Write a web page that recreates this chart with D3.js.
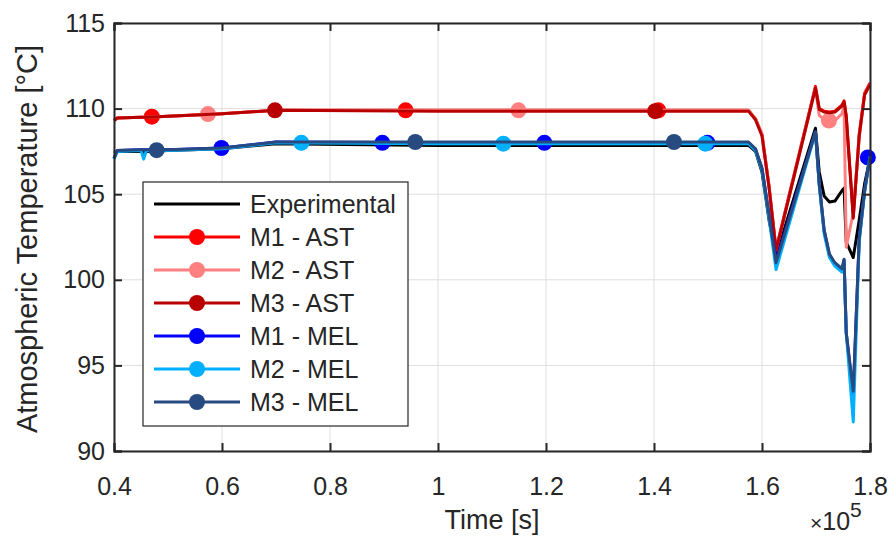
<!DOCTYPE html>
<html lang="en">

<head>
	<meta charset="UTF-8">
	<title>Atmospheric Temperature</title>

	<style>
		body { margin: 0; background: #fff; }
		text { font-family: "Liberation Sans", Arial, Helvetica, sans-serif; fill: #262626; }
	</style>

	<script src="https://d3js.org/d3.v7.min.js"></script>
</head>

<body>
	<script type="text/javascript">
		const width = 896;
		const height = 538;

		// shared time grid [s]
		const time = [40000, 40600, 45000, 45500, 46000, 50000, 60000, 70000, 100000, 130000,
			157500, 158800, 160000, 161300, 162600,
			169900, 170600, 171500, 172500, 173500, 174800, 175200, 175600, 176900, 178000, 179000, 180000];

		// temperature values [°C]
		const expValues = [107.4, 107.5, 107.5, 107.45, 107.5, 107.55, 107.65, 107.95, 107.85, 107.85,
			107.85, 107.5, 106.3, 103.5, 101.4,
			108.85, 106.3, 104.9, 104.55, 104.6, 105.2, 105.35, 102.2, 101.3, 103.5, 105.6, 107.1];
		const m1AstValues = [109.3, 109.45, 109.5, 109.5, 109.5, 109.55, 109.7, 109.9, 109.9, 109.9,
			109.9, 109.4, 108.5, 105.5, 101.8,
			111.3, 110.0, 109.85, 109.8, 109.85, 110.2, 110.45, 109.6, 103.7, 108.5, 110.9, 111.5];
		const m2AstValues = [109.3, 109.45, 109.5, 109.5, 109.5, 109.55, 109.7, 109.9, 109.9, 109.9,
			109.9, 109.4, 108.5, 105.4, 101.7,
			111.2, 109.6, 109.35, 109.25, 109.3, 109.7, 110.1, 101.9, 103.9, 108.3, 110.8, 111.4];
		const m3AstValues = [109.3, 109.45, 109.5, 109.5, 109.5, 109.55, 109.7, 109.9, 109.85, 109.85,
			109.85, 109.35, 108.4, 105.4, 101.7,
			111.2, 109.95, 109.8, 109.75, 109.8, 110.15, 110.4, 109.5, 103.6, 108.4, 110.8, 111.4];
		const m1MelValues = [107.1, 107.55, 107.6, 107.6, 107.6, 107.6, 107.7, 108.05, 108.0, 108.0,
			108.0, 107.6, 106.5, 103.8, 101.1,
			108.65, 105.6, 102.9, 101.4, 100.9, 100.55, 101.15, 96.9, 93.2, 102.4, 105.2, 107.2];
		const m2MelValues = [107.05, 107.5, 107.55, 107.05, 107.55, 107.55, 107.65, 108.0, 107.95, 107.95,
			107.95, 107.55, 106.4, 103.6, 100.6,
			108.6, 105.5, 102.7, 101.3, 100.8, 100.45, 101.05, 96.9, 91.7, 102.2, 105.1, 107.2];
		const m3MelValues = [107.1, 107.55, 107.6, 107.6, 107.6, 107.6, 107.7, 108.05, 108.05, 108.05,
			108.05, 107.65, 106.5, 103.8, 101.0,
			108.65, 105.6, 102.9, 101.5, 101.0, 100.65, 101.2, 96.9, 93.5, 102.4, 105.2, 107.2];

		// marker positions
		const m1AstMarkT = [47000, 94000, 140800];
		const m1AstMarkV = [109.53, 109.9, 109.9];
		const m2AstMarkT = [57400, 114900, 172400];
		const m2AstMarkV = [109.68, 109.9, 109.3];
		const m3AstMarkT = [69800, 140200];
		const m3AstMarkV = [109.9, 109.85];
		const m1MelMarkT = [59900, 89700, 119700, 149900, 179600];
		const m1MelMarkV = [107.7, 108.0, 108.0, 108.0, 107.15];
		const m2MelMarkT = [74700, 112100, 149500];
		const m2MelMarkV = [108.0, 107.95, 107.95];
		const m3MelMarkT = [47900, 95800, 143700];
		const m3MelMarkV = [107.57, 108.05, 108.05];

		const xTicks = [40000, 60000, 80000, 100000, 120000, 140000, 160000, 180000];
		const yTicks = [90, 95, 100, 105, 110, 115];

		const series = [
			{ name: "Experimental", values: expValues, color: "#000000", markT: [], markV: [] },
			{ name: "M1 - AST", values: m1AstValues, color: "#ff0000", markT: m1AstMarkT, markV: m1AstMarkV },
			{ name: "M2 - AST", values: m2AstValues, color: "#ff8080", markT: m2AstMarkT, markV: m2AstMarkV },
			{ name: "M3 - AST", values: m3AstValues, color: "#b80000", markT: m3AstMarkT, markV: m3AstMarkV },
			{ name: "M1 - MEL", values: m1MelValues, color: "#0000ff", markT: m1MelMarkT, markV: m1MelMarkV },
			{ name: "M2 - MEL", values: m2MelValues, color: "#00b0ff", markT: m2MelMarkT, markV: m2MelMarkV },
			{ name: "M3 - MEL", values: m3MelValues, color: "#274a80", markT: m3MelMarkT, markV: m3MelMarkV }
		];

		const plotLeft = 114, plotRight = 870, plotTop = 23, plotBottom = 451;

		const x = d3.scaleLinear().domain([40000, 180000]).range([plotLeft, plotRight]);
		const y = d3.scaleLinear().domain([90, 115]).range([plotBottom, plotTop]);

		const svg = d3.select("body").append("svg")
			.attr("width", width)
			.attr("height", height);

		// grid
		const grid = svg.append("g").attr("stroke", "#dfdfdf").attr("stroke-width", 1);
		grid.selectAll(".gx").data(xTicks).join("line")
			.attr("x1", d => x(d)).attr("x2", d => x(d))
			.attr("y1", plotTop).attr("y2", plotBottom);
		grid.selectAll(".gy").data(yTicks).join("line")
			.attr("x1", plotLeft).attr("x2", plotRight)
			.attr("y1", d => y(d)).attr("y2", d => y(d));

		// lines + markers, series by series
		const line = d3.line()
			.x((d, i) => x(time[i]))
			.y(d => y(d));

		const plot = svg.append("g");
		series.forEach(s => {
			const g = plot.append("g");
			g.append("path")
				.attr("d", line(s.values))
				.attr("fill", "none")
				.attr("stroke", s.color)
				.attr("stroke-width", 3)
				.attr("stroke-linejoin", "round");
			g.selectAll("circle").data(s.markT).join("circle")
				.attr("cx", d => x(d))
				.attr("cy", (d, i) => y(s.markV[i]))
				.attr("r", 8)
				.attr("fill", s.color);
		});

		// axes (ticks pointing inward, box on)
		const fmtX = d => String(+(d / 1e5).toFixed(1));
		svg.append("g").attr("transform", `translate(0,${plotBottom})`)
			.call(d3.axisBottom(x).tickValues(xTicks).tickSize(-8).tickPadding(26).tickFormat(fmtX));
		svg.append("g").attr("transform", `translate(${plotLeft},0)`)
			.call(d3.axisLeft(y).tickValues(yTicks).tickSize(-8).tickPadding(9));
		svg.append("g").attr("transform", `translate(0,${plotTop})`)
			.call(d3.axisTop(x).tickValues(xTicks).tickSize(-8).tickFormat(""));
		svg.append("g").attr("transform", `translate(${plotRight},0)`)
			.call(d3.axisRight(y).tickValues(yTicks).tickSize(-8).tickFormat(""));

		svg.selectAll(".domain").attr("stroke", "#262626").attr("stroke-width", 2);
		svg.selectAll(".tick line").attr("stroke", "#262626").attr("stroke-width", 2);
		svg.selectAll(".tick text").attr("font-size", 25).attr("fill", "#262626")
			.attr("font-family", "Liberation Sans, Arial, sans-serif");

		// labels
		svg.append("text")
			.attr("x", (plotLeft + plotRight) / 2).attr("y", 529)
			.attr("text-anchor", "middle").attr("font-size", 27)
			.text("Time [s]");

		svg.append("text")
			.attr("transform", `translate(37,${(plotTop + plotBottom) / 2 + 2}) rotate(-90)`)
			.attr("text-anchor", "middle").attr("font-size", 29)
			.text("Atmospheric Temperature [°C]");

		const expo = svg.append("text").attr("x", 810).attr("y", 530).attr("font-size", 25);
		expo.append("tspan").attr("font-size", 21).text("×");
		expo.append("tspan").text("10");
		expo.append("tspan").attr("font-size", 21).attr("dy", -13).text("5");

		// legend
		const legend = svg.append("g");
		legend.append("rect")
			.attr("x", 143).attr("y", 182).attr("width", 265).attr("height", 244)
			.attr("fill", "#fff").attr("stroke", "#262626").attr("stroke-width", 1.2);

		const item = legend.selectAll(".item").data(series).join("g")
			.attr("transform", (d, i) => `translate(0,${204 + i * 33})`);
		item.append("line")
			.attr("x1", 154).attr("x2", 240)
			.attr("stroke", d => d.color).attr("stroke-width", 3);
		item.filter(d => d.markT.length > 0).append("circle")
			.attr("cx", 197).attr("r", 8).attr("fill", d => d.color);
		item.append("text")
			.attr("x", 250).attr("dy", "0.35em").attr("font-size", 25)
			.text(d => d.name);
	</script>
</body>

</html>
